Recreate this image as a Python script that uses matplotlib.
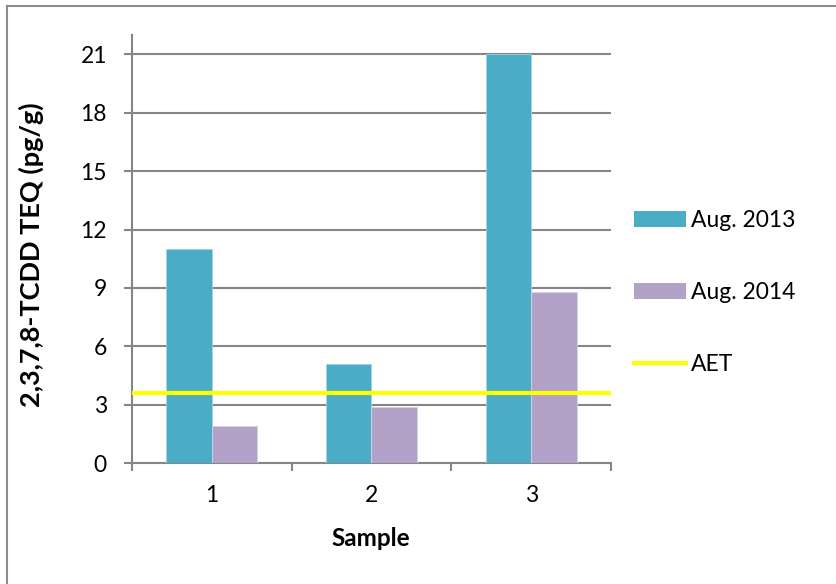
import matplotlib
matplotlib.use("Agg")
import matplotlib.pyplot as plt
from matplotlib.lines import Line2D
from matplotlib.patches import Patch
import numpy as np

samples = ["1", "2", "3"]
aug2013 = [11.0, 5.1, 21.0]
aug2014 = [1.9, 2.9, 8.8]
aet = 3.6
yticks = [0, 3, 6, 9, 12, 15, 18, 21]

c2013 = "#4bacc6"
c2014 = "#b2a2c7"
caet = "#ffff00"
gray = "#868686"

plt.rcParams['font.family'] = ['Lato', 'DejaVu Sans']

fig = plt.figure(figsize=(8.36, 5.84), dpi=100)
ax = fig.add_axes([132/836, 1-463/584, (611-132)/836, (463-35)/584])

x = np.arange(len(samples))
w = 1/3.5
ax.bar(x - w/2, aug2013, w, color=c2013, edgecolor="#9fd6e4", linewidth=0.6, zorder=3)
ax.bar(x + w/2, aug2014, w, color=c2014, edgecolor="#d9d0e6", linewidth=0.6, zorder=3)
ax.axhline(aet, color=caet, linewidth=3, zorder=4)

ax.set_xlim(-0.5, 2.5)
ax.set_ylim(0, 22)
ax.set_yticks(yticks)
ax.set_yticklabels([str(v) for v in yticks])
ax.yaxis.grid(True, color=gray, linewidth=1.5, zorder=0)
ax.set_axisbelow(True)

tfs = 16.5
ax.set_xticks(x)
ax.set_xticklabels(samples)
ax.set_xticks([-0.5, 0.5, 1.5, 2.5], minor=True)
ax.tick_params(axis='x', which='major', length=0, labelsize=tfs, pad=16, colors='black')
ax.tick_params(axis='x', which='minor', length=6, width=1.5, color=gray)
ax.tick_params(axis='y', length=6, width=1.5, color=gray, labelsize=tfs, pad=12)

for s in ['top', 'right']:
    ax.spines[s].set_visible(False)
for s in ['left', 'bottom']:
    ax.spines[s].set_color(gray)
    ax.spines[s].set_linewidth(1.5)

fig.text(31/836, 1-255/584, "2,3,7,8-TCDD TEQ (pg/g)", rotation=90, ha='center', va='center',
         fontsize=19.5, fontweight='bold')
fig.text(371/836, 1-538/584, "Sample", ha='center', va='center', fontsize=17.5, fontweight='bold')

handles = [Patch(facecolor=c2013, edgecolor='none'),
           Patch(facecolor=c2014, edgecolor='none'),
           Line2D([0], [0], color=caet, linewidth=3)]
labels = ["Aug. 2013", "Aug. 2014", "AET"]
fs = 16.5
fpx = fs * 100 / 72
fig.legend(handles, labels, loc='upper left', bbox_to_anchor=(634/836, 1-210/584),
           frameon=False, fontsize=fs, handlelength=52/fpx, handleheight=15/fpx,
           handletextpad=5/fpx, labelspacing=(74-fpx)/fpx, borderaxespad=0, borderpad=0)

# outer border (left and top)
fig.add_artist(Line2D([7/836, 7/836], [0, 1-5.5/584], transform=fig.transFigure, color="#8c8c8c", linewidth=1.5))
fig.add_artist(Line2D([7/836, 1], [1-5.5/584, 1-5.5/584], transform=fig.transFigure, color="#8c8c8c", linewidth=1.5))

fig.savefig("out.png", dpi=100)
